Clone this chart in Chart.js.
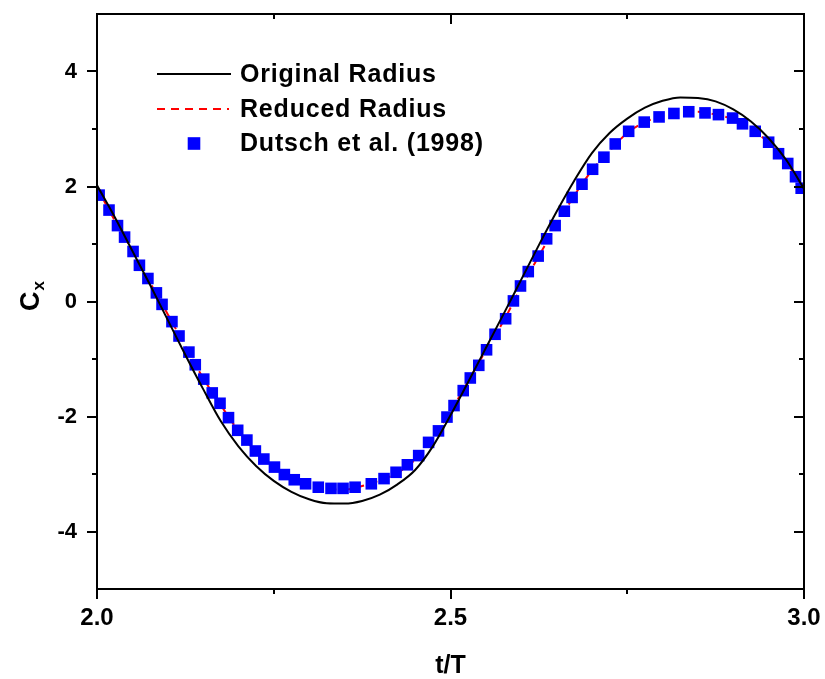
<!DOCTYPE html>
<html>
<head>
<meta charset="utf-8">
<script src="https://cdn.jsdelivr.net/npm/chart.js@4.4.0/dist/chart.umd.min.js"></script>
<style>
  html, body { margin: 0; padding: 0; background: #ffffff; }
  canvas { display: block; }
</style>
</head>
<body>
<canvas id="cx" width="825" height="679"></canvas>
<script>
// Simulation time grid (t/T) for the two computed curves
const tGrid = [
  2.000, 2.025, 2.050, 2.075, 2.100, 2.125, 2.150, 2.175, 2.200, 2.225,
  2.250, 2.275, 2.300, 2.325, 2.350, 2.375, 2.400, 2.425, 2.450, 2.475,
  2.500, 2.525, 2.550, 2.575, 2.600, 2.625, 2.650, 2.675, 2.700, 2.725,
  2.750, 2.775, 2.800, 2.825, 2.850, 2.875, 2.900, 2.925, 2.950, 2.975,
  3.000
];

// In-line force coefficient, original cylinder radius
const originalRadius = [
   2.02,  1.47,  0.88,  0.29, -0.32, -0.93, -1.52, -2.08, -2.52, -2.86,
  -3.12, -3.31, -3.44, -3.51, -3.515, -3.47, -3.36, -3.18, -2.93, -2.52,
  -1.98, -1.40, -0.81, -0.22,  0.38,  0.98,  1.56,  2.10,  2.58,  2.93,
   3.18,  3.37,  3.49,  3.55,  3.54,  3.48,  3.34,  3.13,  2.84,  2.46,
   1.96
];

// In-line force coefficient, reduced cylinder radius
const reducedRadius = [
   1.98,  1.41,  0.89,  0.33, -0.22, -0.78, -1.33, -1.80, -2.25, -2.61,
  -2.87, -3.08, -3.19, -3.26, -3.27, -3.21, -3.11, -2.98, -2.75, -2.36,
  -1.91, -1.39, -0.85, -0.34,  0.25,  0.79,  1.33,  1.84,  2.28,  2.62,
   2.93,  3.12,  3.23,  3.29,  3.30,  3.25,  3.17,  3.00,  2.76,  2.42,
   1.95
];

// Experimental data, Dutsch et al. (1998)
const dutschT = [
  2.003, 2.017, 2.029, 2.039, 2.051, 2.060, 2.072, 2.084, 2.092, 2.106,
  2.116, 2.130, 2.139, 2.151, 2.163, 2.174, 2.186, 2.199, 2.212, 2.224,
  2.236, 2.251, 2.265, 2.279, 2.295, 2.313, 2.331, 2.348, 2.365, 2.388,
  2.406, 2.423, 2.439, 2.455, 2.469, 2.483, 2.495, 2.505, 2.518, 2.528,
  2.540, 2.551, 2.563, 2.578, 2.589, 2.599, 2.610, 2.624, 2.636, 2.648,
  2.661, 2.672, 2.686, 2.701, 2.717, 2.733, 2.752, 2.774, 2.795, 2.816,
  2.837, 2.860, 2.879, 2.899, 2.913, 2.931, 2.950, 2.964, 2.977, 2.988,
  2.996
];
const dutschCx = [
   1.85,  1.59,  1.32,  1.12,  0.87,  0.63,  0.40,  0.15, -0.05, -0.35,
  -0.60, -0.88, -1.10, -1.35, -1.59, -1.77, -2.02, -2.24, -2.41, -2.60,
  -2.74, -2.88, -3.01, -3.10, -3.17, -3.23, -3.25, -3.25, -3.23, -3.17,
  -3.08, -2.97, -2.84, -2.68, -2.45, -2.25, -2.01, -1.81, -1.55, -1.33,
  -1.11, -0.84, -0.57, -0.30,  0.01,  0.27,  0.52,  0.79,  1.09,  1.32,
   1.57,  1.81,  2.04,  2.30,  2.51,  2.74,  2.96,  3.12,  3.21,  3.27,
   3.30,  3.28,  3.25,  3.19,  3.09,  2.96,  2.77,  2.57,  2.40,  2.17,
   1.97
];

// Axis ticks
const xTicks = [2.0, 2.5, 3.0];
const xMinorTicks = [2.25, 2.75];
const yTicks = [-4, -2, 0, 2, 4];
const yMinorTicks = [-3, -1, 1, 3];

const seriesLabels = ['Original Radius', 'Reduced Radius', 'Dutsch et al. (1998)'];

const FONT = "'Liberation Sans', Arial, Helvetica, sans-serif";

// Closed frame with outward ticks on bottom/left and inward ticks on top/right
const framePlugin = {
  id: 'frameTicks',
  afterDatasetsDraw(chart) {
    const { ctx, chartArea: a, scales: { x, y } } = chart;
    ctx.save();
    ctx.strokeStyle = '#000000';
    ctx.lineWidth = 2;
    ctx.lineCap = 'butt';
    ctx.strokeRect(a.left, a.top, a.right - a.left, a.bottom - a.top);

    const major = 10, minor = 5;
    ctx.beginPath();
    const xt = (vals, len) => vals.forEach(v => {
      const px = Math.round(x.getPixelForValue(v));
      ctx.moveTo(px, a.bottom); ctx.lineTo(px, a.bottom + len);
      ctx.moveTo(px, a.top); ctx.lineTo(px, a.top + len);
    });
    const yt = (vals, len) => vals.forEach(v => {
      const py = Math.round(y.getPixelForValue(v));
      ctx.moveTo(a.left, py); ctx.lineTo(a.left - len, py);
      ctx.moveTo(a.right, py); ctx.lineTo(a.right - len, py);
    });
    xt(xTicks, major); xt(xMinorTicks, minor);
    yt(yTicks, major); yt(yMinorTicks, minor);
    ctx.stroke();
    ctx.restore();
  }
};

// Axis titles and the in-plot legend
const annotatePlugin = {
  id: 'annotate',
  afterDraw(chart) {
    const { ctx, chartArea: a } = chart;
    const ds = chart.data.datasets;
    ctx.save();
    ctx.fillStyle = '#000000';

    // x title
    ctx.font = 'bold 25px ' + FONT;
    ctx.textAlign = 'center';
    ctx.textBaseline = 'middle';
    ctx.fillText('t/T', (a.left + a.right) / 2, 666);

    // y title: C with subscript x, rotated
    ctx.save();
    ctx.translate(30, 296);
    ctx.rotate(-Math.PI / 2);
    ctx.textAlign = 'left';
    ctx.textBaseline = 'alphabetic';
    ctx.font = 'bold 27px ' + FONT;
    const wC = ctx.measureText('C').width;
    ctx.font = 'bold 17px ' + FONT;
    const wx = ctx.measureText('x').width;
    const start = -(wC + wx + 1) / 2;
    ctx.font = 'bold 27px ' + FONT;
    ctx.fillText('C', start, 9);
    ctx.font = 'bold 17px ' + FONT;
    ctx.fillText('x', start + wC + 1, 14);
    ctx.restore();

    // legend
    const rows = [74, 109, 143.5];
    ctx.lineWidth = ds[0].borderWidth;
    ctx.strokeStyle = ds[0].borderColor;
    ctx.beginPath(); ctx.moveTo(157, rows[0]); ctx.lineTo(231, rows[0]); ctx.stroke();

    ctx.lineWidth = ds[1].borderWidth;
    ctx.strokeStyle = ds[1].borderColor;
    ctx.setLineDash(ds[1].borderDash);
    ctx.beginPath(); ctx.moveTo(157, rows[1]); ctx.lineTo(229, rows[1]); ctx.stroke();
    ctx.setLineDash([]);

    ctx.fillStyle = ds[2].backgroundColor;
    const s = 12.6;
    ctx.fillRect(194 - s / 2, rows[2] - s / 2, s, s);

    ctx.fillStyle = '#000000';
    ctx.font = 'bold 25px ' + FONT;
    ctx.textAlign = 'left';
    ctx.textBaseline = 'middle';
    if ('letterSpacing' in ctx) ctx.letterSpacing = '0.8px';
    seriesLabels.forEach((txt, i) => ctx.fillText(txt, 240, rows[i] + 1));
    if ('letterSpacing' in ctx) ctx.letterSpacing = '0px';
    ctx.restore();
  }
};

// Fixed axis box sizes; label overflow padding is not reserved
const fixBox = (s, prop, size) => {
  s[prop] = size;
  s.paddingTop = 0; s.paddingBottom = 0; s.paddingLeft = 0; s.paddingRight = 0;
};

new Chart(document.getElementById('cx'), {
  type: 'line',
  data: {
    datasets: [
      {
        label: seriesLabels[0],
        data: tGrid.map((t, i) => ({ x: t, y: originalRadius[i] })),
        borderColor: '#000000',
        borderWidth: 2,
        pointRadius: 0,
        cubicInterpolationMode: 'monotone',
        fill: false,
        clip: 0,
        order: 0
      },
      {
        label: seriesLabels[1],
        data: tGrid.map((t, i) => ({ x: t, y: reducedRadius[i] })),
        borderColor: '#FF0000',
        borderWidth: 2,
        borderDash: [8, 6],
        pointRadius: 0,
        cubicInterpolationMode: 'monotone',
        fill: false,
        clip: 0,
        order: 2
      },
      {
        label: seriesLabels[2],
        data: dutschT.map((t, i) => ({ x: t, y: dutschCx[i] })),
        showLine: false,
        pointStyle: 'rect',
        pointRadius: 8.2,
        pointBorderWidth: 0,
        backgroundColor: '#0000FF',
        borderColor: '#0000FF',
        pointBackgroundColor: '#0000FF',
        clip: 0,
        order: 1
      }
    ]
  },
  options: {
    responsive: false,
    animation: false,
    events: [],
    layout: { padding: { left: 0, right: 21, top: 14, bottom: 0 } },
    plugins: {
      legend: { display: false },
      tooltip: { enabled: false },
      title: { display: false }
    },
    scales: {
      x: {
        type: 'linear',
        min: 2,
        max: 3,
        grid: { display: false, drawTicks: false },
        border: { display: false },
        afterBuildTicks: s => { s.ticks = xTicks.map(v => ({ value: v })); },
        afterFit: s => fixBox(s, 'height', 90),
        ticks: {
          padding: 15,
          color: '#000000',
          autoSkip: false,
          maxRotation: 0,
          font: { family: FONT, weight: 'bold', size: 24 },
          callback: v => Number(v).toFixed(1)
        }
      },
      y: {
        type: 'linear',
        min: -5,
        max: 5,
        grid: { display: false, drawTicks: false },
        border: { display: false },
        afterBuildTicks: s => { s.ticks = yTicks.map(v => ({ value: v })); },
        afterFit: s => fixBox(s, 'width', 97),
        ticks: {
          padding: 20,
          color: '#000000',
          autoSkip: false,
          font: { family: FONT, weight: 'bold', size: 22 },
          callback: v => String(v)
        }
      }
    }
  },
  plugins: [framePlugin, annotatePlugin]
});
</script>
</body>
</html>
